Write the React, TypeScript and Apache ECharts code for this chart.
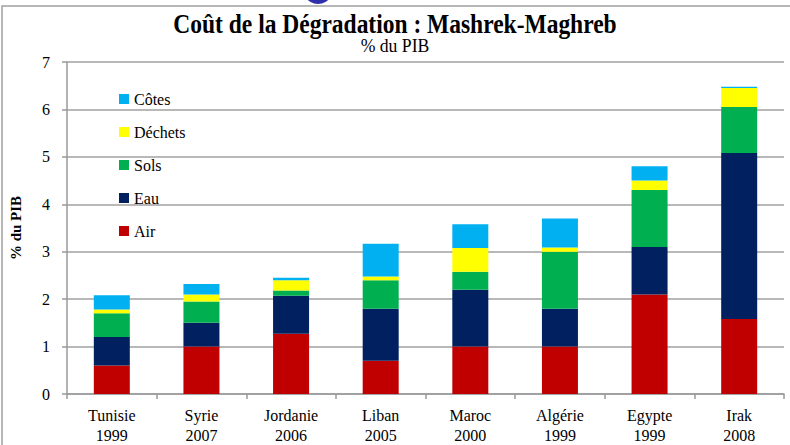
import React, { useEffect, useRef } from "react";
import * as echarts from "echarts";

const categories = [
  "Tunisie\n1999",
  "Syrie\n2007",
  "Jordanie\n2006",
  "Liban\n2005",
  "Maroc\n2000",
  "Algérie\n1999",
  "Egypte\n1999",
  "Irak\n2008",
];
const air = [0.6, 1.0, 1.27, 0.7, 1.0, 1.0, 2.1, 1.58];
const eau = [0.6, 0.5, 0.8, 1.1, 1.2, 0.8, 1.0, 3.5];
const sols = [0.5, 0.45, 0.11, 0.6, 0.38, 1.2, 1.2, 0.97];
const dechets = [0.08, 0.15, 0.22, 0.08, 0.5, 0.09, 0.2, 0.4];
const cotes = [0.3, 0.22, 0.05, 0.69, 0.5, 0.61, 0.3, 0.03];
const legendOrder = ["Côtes", "Déchets", "Sols", "Eau", "Air"];
const yTicks = { min: 0, max: 7, interval: 1 };

const FONT = "Liberation Serif";

export default function App() {
  const ref = useRef<HTMLDivElement>(null);
  useEffect(() => {
    if (!ref.current) return;
    const chart = echarts.init(ref.current, null, { renderer: "svg" });
    const mk = (name: string, data: number[], color: string) => ({
      name,
      type: "bar",
      stack: "total",
      data,
      barWidth: 36,
      itemStyle: { color },
    });
    chart.setOption({
      animation: false,
      backgroundColor: "#fff",
      textStyle: { fontFamily: FONT },
      graphic: [
        {
          type: "rect",
          shape: { x: 2, y: 6, width: 820, height: 500 },
          style: { fill: "none", stroke: "#a0a0a0", lineWidth: 1.5 },
          z: 0,
        },
        {
          type: "circle",
          x: 318,
          y: -11,
          shape: { cx: 0, cy: 0, r: 15 },
          style: { fill: "#2f2fae" },
        },
        {
          type: "text",
          x: 395,
          y: 23,
          scaleX: 0.87,
          style: {
            text: "Coût de la Dégradation : Mashrek-Maghreb",
            x: 0,
            y: 0,
            align: "center",
            verticalAlign: "middle",
            font: "bold 27px 'Liberation Serif'",
            fill: "#000",
          },
        },
        {
          type: "text",
          x: 395,
          y: 46,
          scaleX: 0.93,
          style: {
            text: "% du PIB",
            x: 0,
            y: 0,
            align: "center",
            verticalAlign: "middle",
            font: "19px 'Liberation Serif'",
            fill: "#000",
          },
        },
      ],
      legend: {
        data: legendOrder,
        orient: "vertical",
        left: 114,
        top: 86,
        padding: 5,
        itemWidth: 10,
        itemHeight: 10,
        icon: "rect",
        itemGap: 17,
        textStyle: { fontSize: 16, lineHeight: 16, color: "#000", fontFamily: FONT },
      },
      grid: { left: 63, right: 6, top: 62, bottom: 50, containLabel: false },
      xAxis: {
        type: "category",
        data: categories,
        axisLine: { lineStyle: { color: "#9a9a9a", width: 1.5 } },
        axisTick: { show: true, length: 5, lineStyle: { color: "#9a9a9a", width: 1.5 } },
        axisLabel: { fontSize: 16, lineHeight: 20, color: "#000", margin: 11, fontFamily: FONT, interval: 0 },
      },
      yAxis: {
        type: "value",
        min: yTicks.min,
        max: yTicks.max,
        interval: yTicks.interval,
        name: "% du PIB",
        nameLocation: "middle",
        nameGap: 44,
        nameTextStyle: { fontSize: 15, fontWeight: "bold", color: "#000", fontFamily: FONT },
        axisLine: { show: true, lineStyle: { color: "#9a9a9a", width: 1.5 } },
        axisTick: { show: true, length: 5, lineStyle: { color: "#9a9a9a", width: 1.5 } },
        axisLabel: { fontSize: 16, color: "#000", margin: 17, fontFamily: FONT },
        splitLine: { lineStyle: { color: "#a0a0a0", width: 1.5 } },
      },
      series: [
        mk("Air", air, "#C00000"),
        mk("Eau", eau, "#002060"),
        mk("Sols", sols, "#00B050"),
        mk("Déchets", dechets, "#FFFF00"),
        mk("Côtes", cotes, "#00B0F0"),
      ],
    });
    return () => chart.dispose();
  }, []);
  return (
    <div
      ref={ref}
      style={{ position: "fixed", left: 0, top: 0, width: 790, height: 445 }}
    />
  );
}
